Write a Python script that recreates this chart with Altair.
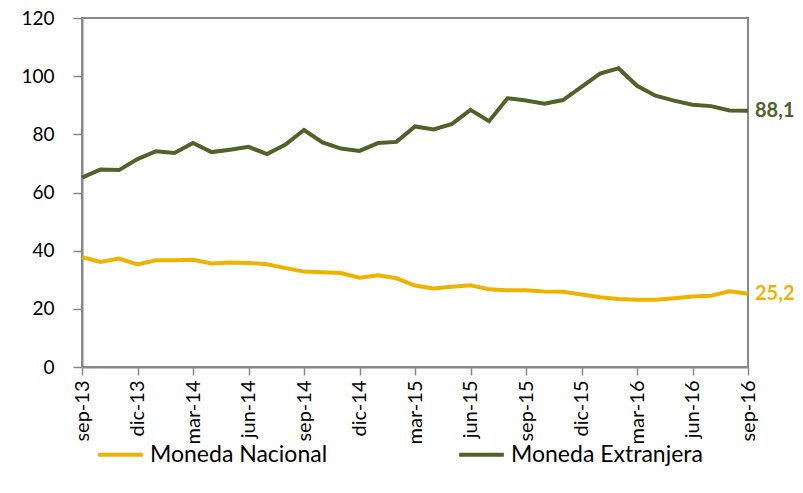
import altair as alt
import pandas as pd

months = ["sep-13","oct-13","nov-13","dic-13","ene-14","feb-14","mar-14","abr-14","may-14","jun-14",
          "jul-14","ago-14","sep-14","oct-14","nov-14","dic-14","ene-15","feb-15","mar-15","abr-15",
          "may-15","jun-15","jul-15","ago-15","sep-15","oct-15","nov-15","dic-15","ene-16","feb-16",
          "mar-16","abr-16","may-16","jun-16","jul-16","ago-16","sep-16"]

nacional = [37.8, 36.1, 37.3, 35.3, 36.7, 36.7, 36.9, 35.6, 35.9, 35.8,
            35.3, 34.0, 32.8, 32.6, 32.3, 30.7, 31.5, 30.5, 28.0, 27.0,
            27.6, 28.1, 26.7, 26.4, 26.4, 26.0, 25.9, 24.9, 24.0, 23.4,
            23.1, 23.1, 23.6, 24.2, 24.5, 26.0, 25.2]

extranjera = [65.1, 67.9, 67.7, 71.5, 74.2, 73.6, 77.0, 73.9, 74.7, 75.7,
              73.2, 76.5, 81.5, 77.2, 75.1, 74.3, 77.0, 77.4, 82.7, 81.7,
              83.6, 88.4, 84.5, 92.4, 91.6, 90.5, 91.8, 96.3, 100.9, 102.7,
              96.7, 93.3, 91.6, 90.2, 89.7, 88.2, 88.1]

series_names = ["Moneda Nacional", "Moneda Extranjera"]
series_colors = ["#EDB300", "#4F6228"]
end_labels = ["25,2", "88,1"]
tick_labels = months[::3]

rows = []
for i, m in enumerate(months):
    rows.append({"mes": m, "serie": series_names[0], "valor": nacional[i]})
    rows.append({"mes": m, "serie": series_names[1], "valor": extranjera[i]})
df = pd.DataFrame(rows)

ends = pd.DataFrame({
    "mes": [months[-1], months[-1]],
    "serie": series_names,
    "valor": [nacional[-1], extranjera[-1]],
    "label": end_labels,
})

FONT = "Lato"

x = alt.X("mes:O", sort=months, scale=alt.Scale(type="point", padding=0),
          axis=alt.Axis(values=tick_labels, title=None, labelAngle=270, labelFontSize=20,
                        labelColor="#000000", labelFont=FONT, tickColor="#888888", tickSize=8,
                        tickWidth=1.5, domainColor="#888888", domainWidth=2, labelPadding=5,
                        grid=False))
y = alt.Y("valor:Q", scale=alt.Scale(domain=[0, 120], nice=False),
          axis=alt.Axis(values=[0, 20, 40, 60, 80, 100, 120], title=None, labelFontSize=19,
                        labelColor="#000000", labelFont=FONT, tickColor="#888888", tickSize=9,
                        tickWidth=1.5, domainColor="#888888", domainWidth=2, labelPadding=19,
                        grid=False))
color = alt.Color("serie:N", scale=alt.Scale(domain=series_names, range=series_colors),
                  legend=alt.Legend(title=None, orient="none", legendX=14, legendY=412,
                                    direction="horizontal", columns=2, symbolType="stroke",
                                    symbolStrokeWidth=4, symbolSize=2000, labelFontSize=23,
                                    labelFont=FONT, labelColor="#000000", columnPadding=123,
                                    labelOffset=5, labelLimit=400))

lines = alt.Chart(df).mark_line(strokeWidth=4).encode(x=x, y=y, color=color)

texts = alt.Chart(ends).mark_text(align="left", baseline="middle", dx=7, fontSize=20,
                                  fontWeight="bold", font=FONT).encode(
    x=alt.X("mes:O", sort=months),
    y=alt.Y("valor:Q"),
    text="label:N",
    color=alt.Color("serie:N", scale=alt.Scale(domain=series_names, range=series_colors), legend=None),
)

chart = alt.layer(lines, texts).properties(
    width=666, height=349,
    autosize=alt.AutoSizeParams(type="none"),
    padding={"left": 74, "top": 10, "right": 47, "bottom": 108},
).configure_view(stroke="#888888", strokeWidth=2)

chart.save("out.html", embed_options={"renderer": "svg", "actions": False})
